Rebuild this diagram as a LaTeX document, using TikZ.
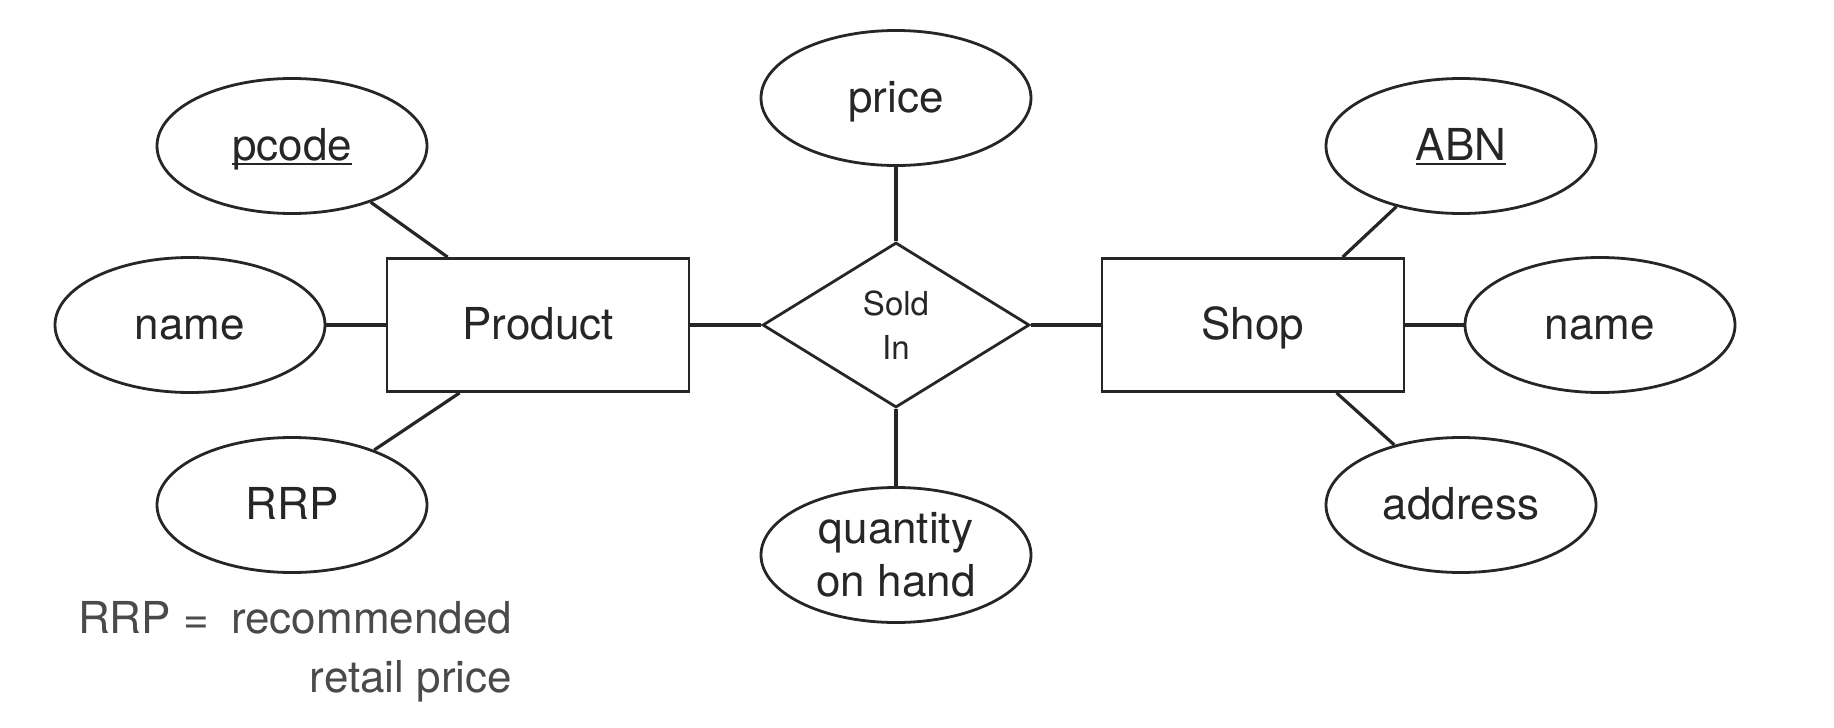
\documentclass[tikz,border=0pt]{standalone}
\usepackage{fontspec}
\setmainfont{TeX Gyre Heros}
\usetikzlibrary{shapes.geometric}
\definecolor{ink}{HTML}{262626}
\definecolor{legend}{HTML}{4A4A4A}
\begin{document}
\begin{tikzpicture}[x=1pt,y=-1pt,
  connector/.style={line width=3.2pt, draw=ink},
  lbl/.style={text=ink, font=\fontsize{44}{52}\selectfont, text height=38pt, text depth=10pt},
  attr/.style={ellipse, draw=ink, line width=2.8pt, minimum width=270pt, minimum height=135pt, inner sep=0pt, lbl},
  ent/.style={rectangle, draw=ink, line width=2.8pt, minimum width=302pt, minimum height=133pt, inner sep=0pt, lbl},
  rel/.style={diamond, draw=ink, line width=2.8pt, minimum width=267pt, minimum height=165pt, inner sep=0pt, text=ink, align=center, font=\fontsize{33}{44}\selectfont},
  keytext/.style={inner sep=0pt, lbl},
  legendtext/.style={inner sep=0pt, text=legend, font=\fontsize{44}{52}\selectfont}]
\useasboundingbox (0,0) rectangle (1834,728);
% entities and relationship
\node[ent] (product) at (538,325) {Product};
\node[ent] (shop) at (1253,325) {Shop};
\node[rel] (sold) at (896,325) {Sold\\In};
% attributes
\node[attr] (pcode) at (292,146) {};
\node[keytext] (pcodet) at (292,146) {pcode};
\node[attr] (name1) at (190,325) {name};
\node[attr] (rrp) at (292,505) {RRP};
\node[attr] (price) at (896,98) {price};
\node[attr, align=center, text height=, text depth=, font=\fontsize{44}{53}\selectfont] (qty) at (896,555) {quantity\\on hand};
\node[attr] (abn) at (1461,146) {};
\node[keytext] (abnt) at (1461,146) {ABN};
\node[attr] (name2) at (1600,325) {name};
\node[attr] (address) at (1461,505) {address};
% underlines of key attributes
\draw[line width=2pt, draw=ink] ([yshift=-4pt]pcodet.base west) -- ([yshift=-4pt]pcodet.base east);
\draw[line width=2pt, draw=ink] ([yshift=-4pt]abnt.base west) -- ([yshift=-4pt]abnt.base east);
% connectors
\draw[connector] (pcode) -- ([xshift=62pt]product.north west);
\draw[connector] (name1) -- (product);
\draw[connector] (rrp) -- ([xshift=74pt]product.south west);
\draw[connector] (product) -- (sold);
\draw[connector] (sold) -- (shop);
\draw[connector] (price) -- (sold);
\draw[connector] (sold) -- (qty);
\draw[connector] (abn) -- ([xshift=242pt]shop.north west);
\draw[connector] (shop) -- (name2);
\draw[connector] (address) -- ([xshift=236pt]shop.south west);
% legend
\node[legendtext, anchor=base west] (leg1) at (78,633) {RRP =\hspace{10pt} recommended};
\node[legendtext, anchor=base east] (leg2) at ([yshift=-59pt]leg1.base east) {retail price};
\end{tikzpicture}
\end{document}
